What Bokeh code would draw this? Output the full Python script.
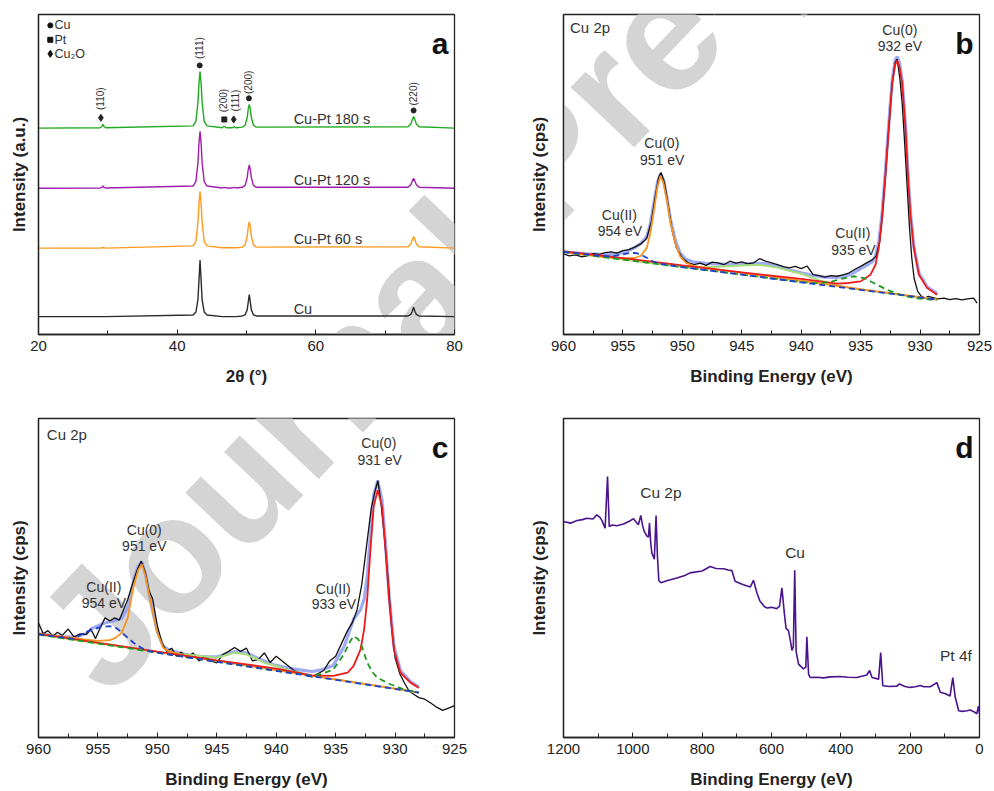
from math import pi
from bokeh.plotting import figure
from bokeh.models import Range1d, Label, FixedTicker, SingleIntervalTicker, ColumnDataSource
from bokeh.layouts import row, column
from bokeh.core.properties import value
from bokeh.embed import file_html
from bokeh.resources import INLINE

FONT = "Liberation Sans"
INK = "#222222"
TXT = "#333333"

# ---------------- Panel a : XRD ----------------
xrd_2theta = [20, 28.9, 29.15, 29.3, 29.45, 29.7, 42.3, 42.7, 43.0, 43.15, 43.3, 43.45, 43.6, 43.9, 44.3,
              46.5, 46.8, 47.1, 47.9, 48.2, 48.5, 49.4, 49.8, 50.1, 50.25, 50.4, 50.55, 50.7, 51.0, 51.4,
              73.3, 73.7, 73.9, 74.1, 74.3, 74.5, 74.9, 80]
xrd_cu = [5.6, 5.6, 5.6, 5.6, 5.6, 5.6, 6.1, 7.0, 10.9, 17.1, 23.3, 17.1, 10.9, 7.0, 6.1,
          5.6, 5.6, 5.6, 5.6, 5.6, 5.6, 5.8, 6.15, 7.7, 10.1, 12.5, 10.1, 7.7, 6.15, 5.8,
          5.8, 6.3, 7.2, 8.5, 7.2, 6.3, 5.8, 5.6]
xrd_60s = [27.0, 27.0, 27.1, 27.1, 27.1, 27.0, 27.7, 29.1, 35.0, 41.2, 44.7, 41.2, 35.0, 29.1, 27.7,
           27.1, 27.1, 27.1, 27.1, 27.1, 27.1, 27.3, 28.0, 30.7, 33.6, 35.3, 33.6, 30.7, 28.0, 27.3,
           27.4, 28.3, 29.5, 30.6, 29.5, 28.3, 27.4, 27.0]
xrd_120s = [45.7, 45.8, 46.0, 46.4, 46.0, 45.8, 46.4, 47.8, 53.7, 59.9, 63.5, 59.9, 53.7, 47.8, 46.4,
            45.8, 46.0, 45.8, 45.8, 46.0, 45.8, 46.0, 46.6, 49.0, 51.5, 53.0, 51.5, 49.0, 46.6, 46.0,
            46.0, 46.8, 47.9, 48.8, 47.9, 46.8, 46.0, 45.7]
xrd_180s = [64.5, 64.6, 65.0, 65.7, 65.0, 64.6, 65.2, 66.6, 72.5, 78.7, 82.2, 78.7, 72.5, 66.6, 65.2,
            64.6, 65.1, 64.6, 64.6, 64.9, 64.6, 64.8, 65.4, 67.8, 70.4, 71.9, 70.4, 67.8, 65.4, 64.8,
            64.9, 65.8, 67.0, 68.1, 67.0, 65.8, 64.9, 64.5]
xrd_names = ["Cu", "Cu-Pt 60 s", "Cu-Pt 120 s", "Cu-Pt 180 s"]
xrd_colors = ["#2b2b2b", "#ff9a1f", "#a21caf", "#1faa1f"]
xrd_name_y = [8.0, 29.9, 48.4, 67.2]

peak_x = [29.0, 43.25, 46.8, 48.15, 50.35, 74.1]
peak_y = [67.7, 84.1, 67.2, 67.2, 73.8, 70.0]
peak_marker = ["diamond", "circle", "square", "diamond", "circle", "circle"]
peak_hkl = ["(110)", "(111)", "(200)", "(111)", "(200)", "(220)"]
peak_hkl_x = [29.0, 43.25, 46.7, 48.4, 50.35, 74.1]
peak_hkl_y = [73.7, 89.5, 73.1, 73.1, 78.8, 75.2]

legend_marker = ["circle", "square", "diamond"]
legend_text = ["Cu", "Pt", "Cu\u2082O"]
legend_y = [96.6, 92.1, 87.7]

# ---------------- Panel b : XPS Cu 2p ----------------
b_data = [(960, 25.2), (959.5, 24.6), (959, 24.9), (958.5, 24.3), (958, 24.6), (957.5, 25.3), (957, 25.0),
          (956.5, 25.6), (956, 25.8), (955.5, 25.4), (955, 26.2), (954.5, 26.5), (954, 27.3), (953.5, 28.3),
          (953, 30.0), (952.6, 35.4), (952.3, 42.7), (952.0, 49.0), (951.8, 50.6), (951.5, 47.4),
          (951.2, 40.6), (950.9, 33.3), (950.5, 27.1), (950.0, 23.9), (949.5, 22.4), (949, 21.8),
          (948.5, 22.3), (948, 21.6), (947.5, 22.6), (947, 22.4), (946.5, 21.8), (946, 22.9), (945.5, 22.3),
          (945, 22.7), (944.5, 22.1), (944, 22.4), (943.5, 23.7), (943, 22.9), (942.5, 22.4), (942, 21.8),
          (941.5, 21.2), (941, 20.8), (940.5, 21.3), (940, 20.6), (939.5, 21.4), (939, 18.7), (938.5, 18.4),
          (938, 17.9), (937.5, 18.4), (937, 18.2), (936.5, 18.6), (936, 19.2), (935.5, 20.3), (935, 21.3),
          (934.5, 22.4), (934, 23.4), (933.7, 24.5), (933.4, 29.0), (933.2, 36.5), (932.9, 50.1),
          (932.63, 64.7), (932.35, 78.3), (932.1, 85.0), (931.93, 86.1), (931.7, 80.0), (931.5, 72.0),
          (931.3, 60.0), (931.1, 47.0), (930.9, 34.0), (930.7, 24.0), (930.5, 17.5), (930.2, 13.5),
          (929.9, 12.0), (929.6, 11.4), (929.3, 11.9), (929, 11.6), (928.5, 11.1), (928, 11.4),
          (927.5, 10.9), (927, 11.2), (926.5, 10.8), (926, 11.1), (925.5, 11.4), (925.2, 9.8)]
b_envelope = [(960, 25.8), (958, 25.2), (956, 25.0), (955, 25.6), (954.5, 26.3), (954, 27.2), (953.5, 28.4),
              (953, 30.5), (952.7, 34.5), (952.4, 41.0), (952.1, 47.5), (951.85, 50.2), (951.6, 48.5),
              (951.3, 43.0), (951.0, 36.0), (950.6, 29.5), (950.2, 25.5), (949.7, 23.5), (949, 22.6),
              (948, 22.2), (947, 22.0), (946, 22.0), (945, 22.1), (944, 22.2), (943.5, 22.2), (943, 22.1),
              (942, 21.2), (941, 20.2), (940, 19.3), (939, 18.5), (938, 17.9), (937, 17.8), (936, 18.6),
              (935.5, 19.5), (935, 20.6), (934.5, 21.6), (934, 22.8), (933.75, 24.5), (933.47, 29.0),
              (933.19, 38.0), (932.91, 51.5), (932.63, 66.0), (932.35, 79.3), (932.1, 85.6), (931.93, 86.8),
              (931.75, 85.2), (931.5, 79.3), (931.23, 65.7), (931.03, 51.0), (930.81, 38.3), (930.53, 27.8),
              (930.1, 19.3), (929.4, 14.9), (928.56, 12.8)]
b_cu0_932 = [(960, 26.0), (955, 23.9), (950, 21.6), (945, 19.4), (940, 17.4), (937, 15.9), (936, 16.1),
             (935, 16.6), (934.17, 18.7), (933.75, 21.8), (933.47, 27.1), (933.19, 36.5), (932.91, 50.1),
             (932.63, 64.7), (932.35, 78.3), (932.1, 84.3), (931.93, 85.6), (931.75, 84.0), (931.5, 78.3),
             (931.23, 64.7), (931.03, 50.1), (930.81, 37.5), (930.53, 27.1), (930.1, 18.7), (929.4, 14.5),
             (928.56, 12.4)]
b_cu0_951 = [(960, 25.8), (957, 24.4), (955, 23.8), (954, 23.9), (953.5, 24.6), (953.0, 27.0), (952.7, 31.5),
             (952.4, 38.5), (952.1, 46.0), (951.85, 49.5), (951.6, 47.5), (951.3, 42.0), (951.0, 35.0),
             (950.6, 28.5), (950.2, 24.5), (949.7, 22.4), (949, 21.4), (948, 20.8), (947, 20.3), (945, 19.3),
             (940, 16.8), (935, 14.2), (930, 11.7), (928.56, 10.9)]
b_cu2_954 = [(960, 25.8), (957, 24.6), (956, 24.4), (955.2, 24.9), (954.5, 25.4), (954, 25.5), (953.5, 25.0),
             (953, 24.0), (952.5, 22.9), (952, 22.2), (951.5, 21.9), (950.5, 21.3), (928.56, 10.9)]
b_cu2_935 = [(960, 25.8), (945, 18.7), (940, 16.4), (938.5, 16.0), (937.5, 16.5), (936.5, 17.5), (935.6, 18.2),
             (934.7, 17.6), (933.9, 16.1), (932.8, 14.0), (931.65, 12.4), (930.5, 11.4), (929.1, 10.9),
             (928.56, 10.8)]
b_satellite = [(960, 25.8), (950, 21.1), (949, 20.9), (947, 21.2), (945, 21.6), (943.5, 21.8), (942, 20.9),
               (940, 19.0), (938.5, 17.0), (937, 15.4), (936, 14.6), (935, 14.0), (928.56, 10.9)]
b_ann_text = ["Cu(0)", "932 eV", "Cu(0)", "951 eV", "Cu(II)", "954 eV", "Cu(II)", "935 eV"]
b_ann_x = [931.7, 931.7, 951.73, 951.7, 955.3, 955.25, 935.66, 935.6]
b_ann_y = [95.2, 90.3, 59.7, 54.4, 37.5, 32.3, 31.6, 26.3]

# ---------------- Panel c : XPS Cu 2p ----------------
c_data = [(960, 35.9), (959.6, 32.5), (959.2, 33.5), (958.8, 31.8), (958.4, 33.0), (958, 32.0), (957.5, 34.0),
          (957, 31.5), (956.5, 32.5), (956, 32.3), (955.6, 34.0), (955.2, 31.0), (954.8, 34.5), (954.4, 37.5),
          (954, 36.5), (953.6, 37.5), (953.2, 36.8), (952.9, 39.5), (952.5, 43.2), (952.1, 48.0),
          (951.7, 52.5), (951.35, 55.3), (951.0, 51.6), (950.7, 46.0), (950.4, 43.5), (950.0, 35.0),
          (949.6, 29.5), (949.2, 27.0), (948.8, 28.0), (948.4, 25.5), (948, 26.8), (947.5, 25.0), (947, 26.5),
          (946.5, 24.0), (946, 25.5), (945.5, 24.0), (945, 23.4), (944.5, 26.0), (944, 27.0), (943.5, 28.2),
          (943, 27.0), (942.5, 28.0), (942, 24.0), (941.5, 24.5), (941, 26.5), (940.5, 23.5), (940, 25.5),
          (939.5, 24.0), (939, 22.5), (938.5, 21.0), (938, 20.3), (937.5, 19.5), (937, 19.0), (936.5, 20.0),
          (936, 21.0), (935.5, 24.0), (935, 25.5), (934.5, 29.5), (934, 33.5), (933.6, 36.0), (933.2, 40.0),
          (932.8, 48.0), (932.4, 60.0), (932.0, 72.0), (931.7, 77.0), (931.45, 80.5), (931.2, 74.0),
          (930.9, 63.0), (930.6, 50.0), (930.3, 35.0), (930.0, 25.0), (929.6, 20.0), (929.2, 17.0),
          (928.8, 14.5), (928.4, 13.5), (928, 12.5), (927.5, 12.0), (927, 10.8), (926.5, 9.5), (926, 8.5),
          (925.5, 9.2), (925, 10.0)]
c_envelope = [(960, 32.5), (958, 31.6), (957, 31.5), (956, 32.5), (955.5, 34.2), (954.5, 35.8), (954, 36.3),
              (953.5, 36.7), (953, 37.4), (952.5, 40.6), (952, 49.3), (951.6, 53.8), (951.3, 55.0), (951, 51.2),
              (950.5, 41.4), (950, 33.1), (949.5, 28.6), (949, 27.4), (948, 26.3), (947, 25.7), (946, 25.3),
              (945, 25.3), (944, 26.3), (943.5, 26.9), (942.5, 26.5), (941.5, 24.8), (940.5, 23.2), (940, 22.6),
              (939, 21.8), (938, 21.2), (937, 20.7), (936.3, 21.1), (935.2, 22.6), (934.3, 28.4), (933.5, 37.0),
              (932.9, 40.1), (932.6, 43.4), (932.35, 50.2), (932.07, 64.0), (931.8, 76.0), (931.46, 80.5),
              (931.1, 74.5), (930.8, 60.7), (930.5, 44.6), (930.1, 28.7), (929.55, 21.0), (928.7, 17.5),
              (928.0, 15.8)]
c_cu0_931 = [(960, 32.5), (950, 26.9), (945, 24.2), (940, 21.6), (937, 19.5), (935.2, 19.3), (934.0, 20.3),
             (933.5, 22.4), (932.9, 27.6), (932.6, 34.0), (932.35, 43.2), (932.07, 58.9), (931.8, 72.4),
             (931.46, 77.6), (931.1, 72.4), (930.8, 58.9), (930.5, 43.2), (930.1, 27.6), (929.55, 20.3),
             (928.7, 17.2), (928.0, 15.6)]
c_cu0_951 = [(960, 32.5), (957, 31.2), (956, 30.7), (955, 30.3), (954, 30.5), (953.5, 31.3), (953, 32.8),
             (952.5, 37.4), (952, 47.4), (951.6, 52.6), (951.3, 54.2), (951, 50.7), (950.5, 41.2), (950, 32.8),
             (949.5, 28.1), (949, 27.0), (948, 26.0), (947, 25.2), (946, 24.6), (945, 24.0), (940, 21.1),
             (935, 18.2), (930, 15.3), (928, 14.1)]
c_cu2_954 = [(960, 32.3), (957, 30.9), (956.2, 32.8), (955.5, 33.7), (954.8, 34.6), (954, 34.9), (953.5, 34.4),
             (953.1, 33.3), (952.5, 31.3), (952, 29.7), (951.3, 28.0), (950.6, 27.0), (949, 26.0), (928, 14.1)]
c_cu2_933 = [(960, 32.3), (940, 20.9), (937, 19.3), (936.3, 19.8), (935.2, 21.3), (934.3, 26.1), (933.8, 30.0),
             (933.5, 31.8), (933.1, 30.8), (932.8, 28.6), (932.35, 23.5), (931.9, 20.5), (931.5, 18.7),
             (930.4, 16.7), (929.3, 15.1), (928, 14.1)]
c_satellite = [(960, 32.3), (950, 26.8), (949, 26.3), (947, 25.8), (945, 25.0), (944, 26.0), (943.5, 26.6),
               (942.5, 26.0), (941.5, 24.4), (941, 23.4), (940, 22.4), (939, 21.0), (938, 20.3), (937, 19.4),
               (935, 18.2), (928, 14.1)]
c_ann_text = ["Cu(0)", "931 eV", "Cu(0)", "951 eV", "Cu(II)", "954 eV", "Cu(II)", "933 eV"]
c_ann_x = [931.37, 931.3, 951.1, 951.1, 954.5, 954.5, 935.2, 935.15]
c_ann_y = [92.2, 87.0, 64.9, 59.9, 47.1, 42.2, 46.6, 41.7]

# ---------------- Panel d : XPS survey ----------------
d_survey = [(1200, 67.7), (1180, 67.2), (1161, 68.0), (1145, 68.3), (1133, 68.75), (1115, 68.5), (1104, 69.8),
            (1095, 69.0), (1089, 68.0), (1080, 65.6), (1073, 81.8), (1068, 66.1), (1060, 66.6), (1046, 66.4),
            (1027, 66.9), (1010, 67.8), (998, 68.6), (990, 67.5), (984, 66.7), (977, 69.6), (972, 66.5),
            (967, 64.6), (960, 63.2), (955, 62.8), (952, 67.2), (948, 60.5), (945, 57.8), (938, 55.9),
            (933, 69.6), (929, 56.8), (925, 49.2), (919, 48.5), (900, 49.2), (873, 50.0), (850, 50.8),
            (835, 51.6), (800, 52.2), (777, 53.6), (760, 53.0), (738, 52.9), (725, 52.5), (714, 52.3),
            (705, 49.0), (690, 48.3), (681, 47.9), (661, 47.2), (652, 49.3), (642, 45.3), (633, 42.7),
            (620, 41.0), (613, 40.6), (600, 40.8), (585, 40.4), (577, 41.1), (570, 46.9), (563, 39.0),
            (558, 34.2), (551, 33.5), (545, 30.0), (541, 27.3), (537, 28.4), (533, 52.4), (529, 27.0),
            (522, 23.0), (508, 21.5), (501, 22.0), (498, 31.6), (493, 19.8), (488, 18.8), (470, 18.9),
            (450, 18.7), (430, 19.0), (402, 19.1), (380, 18.9), (354, 18.8), (340, 19.2), (325, 19.6),
            (317, 21.0), (310, 18.8), (291, 18.3), (285, 26.6), (279, 16.2), (260, 16.0), (238, 16.1),
            (231, 16.8), (215, 16.0), (200, 15.7), (185, 15.9), (171, 16.3), (160, 15.9), (142, 15.9),
            (123, 17.2), (113, 14.2), (100, 13.8), (85, 13.0), (77, 18.8), (70, 12.6), (65, 10.5), (60, 8.4),
            (50, 8.2), (36, 8.4), (27, 8.6), (15, 8.0), (8, 7.4), (3, 9.8), (0, 7.3)]
d_ann_text = ["Cu 2p", "Cu", "Pt 4f"]
d_ann_x = [919, 532, 68]
d_ann_y = [76.8, 58.1, 25.7]

# ---------------- layout constants (page pixels; the page has no margin) ----------------
FW, FH = 416, 320
W_LEFT, W_RIGHT = 496, 498
LEFT_A, LEFT_B = 38, 67
TOP_A, BOT_A = 14, 56
TOP_C, BOT_C = 28, 53
H_TOP = TOP_A + FH + BOT_A
H_BOT = TOP_C + FH + BOT_C
WM_X, WM_Y, WM_SIZE, WM_ANGLE = 67, 661, 165, 46.5


def xs(pts):
    return [p[0] for p in pts]


def ys(pts):
    return [p[1] for p in pts]


def make_fig(xr, width, left, top, bottom, xlabel, ylabel, ticker, ylab_standoff):
    p = figure(width=width, height=top + FH + bottom, x_range=Range1d(*xr), y_range=Range1d(0, 100),
               output_backend="svg", toolbar_location=None,
               min_border_left=left, min_border_right=width - left - FW,
               min_border_top=top, min_border_bottom=bottom)
    p.title.visible = False
    p.xgrid.visible = False
    p.ygrid.visible = False
    p.outline_line_color = INK
    p.outline_line_width = 1.3
    p.outline_line_alpha = 1
    p.background_fill_color = "white"
    p.border_fill_color = "white"
    xa = p.xaxis[0]
    xa.ticker = ticker
    xa.axis_label = xlabel
    xa.axis_label_text_font = FONT
    xa.axis_label_text_font_size = "17px"
    xa.axis_label_text_font_style = "bold"
    xa.axis_label_text_color = INK
    xa.axis_label_standoff = 13
    xa.major_label_text_font = FONT
    xa.major_label_text_font_size = "15px"
    xa.major_label_text_color = INK
    xa.major_label_standoff = 6
    xa.major_tick_in = 5
    xa.major_tick_out = 0
    xa.minor_tick_in = 4
    xa.minor_tick_out = 0
    xa.major_tick_line_color = INK
    xa.minor_tick_line_color = INK
    xa.axis_line_color = INK
    xa.axis_line_width = 1.3
    ya = p.yaxis[0]
    ya.ticker = FixedTicker(ticks=[], minor_ticks=[])
    ya.major_label_text_font_size = "0px"
    ya.major_label_standoff = 0
    ya.major_tick_in = 0
    ya.major_tick_out = 0
    ya.minor_tick_in = 0
    ya.minor_tick_out = 0
    ya.axis_label = ylabel
    ya.axis_label_text_font = FONT
    ya.axis_label_text_font_size = "17px"
    ya.axis_label_text_font_style = "bold"
    ya.axis_label_text_color = INK
    ya.axis_label_standoff = ylab_standoff
    ya.axis_line_color = INK
    ya.axis_line_width = 1.3
    return p


def add_watermark(p, fx0, fy0, xr):
    x = xr[0] + (WM_X - fx0) / FW * (xr[1] - xr[0])
    y = 100 - (WM_Y - fy0) / FH * 100
    p.add_layout(Label(x=x, y=y, text="Journal Pre-proof", angle=WM_ANGLE * pi / 180,
                       text_font=FONT, text_font_size=f"{WM_SIZE}px", text_font_style="bold",
                       text_color="#d4d4d4", text_align="left", text_baseline="alphabetic",
                       level="underlay"))


def add_letter(p, letter, xr):
    p.add_layout(Label(x=xr[1], y=91, x_offset=-6, text=letter, text_font=FONT,
                       text_font_size="30px", text_font_style="bold", text_color="#111111",
                       text_align="right", text_baseline="alphabetic"))


def add_texts(p, xv, yv, tv, size="14px", align="center"):
    src = ColumnDataSource(dict(x=xv, y=yv, t=tv))
    p.text("x", "y", text="t", source=src, text_font=value(FONT), text_font_size=size,
           text_color=TXT, text_align=align, text_baseline="middle")


# ---------------- figure a ----------------
xr_a = (20, 80)
pa = make_fig(xr_a, W_LEFT, LEFT_A, TOP_A, BOT_A, "2\u03b8 (\u00b0)", "Intensity (a.u.)",
              SingleIntervalTicker(interval=20, num_minor_ticks=2), 10)
add_watermark(pa, LEFT_A, TOP_A, xr_a)
for yv, col in zip([xrd_cu, xrd_60s, xrd_120s, xrd_180s], xrd_colors):
    pa.line(xrd_2theta, yv, line_color=col, line_width=1.4)
add_texts(pa, [56.8] * 4, xrd_name_y, xrd_names, size="14.5px", align="left")
pk_src = ColumnDataSource(dict(x=peak_x, y=peak_y, m=peak_marker,
                               s=[7 if m == "diamond" else 5 for m in peak_marker]))
pa.scatter("x", "y", marker="m", size="s", source=pk_src, fill_color="#222222", line_color="#222222")
hkl_src = ColumnDataSource(dict(x=peak_hkl_x, y=peak_hkl_y, t=peak_hkl))
pa.text("x", "y", text="t", source=hkl_src, angle=pi / 2, text_font=value(FONT), text_font_size="10px",
        text_color=TXT, text_align="center", text_baseline="middle")
lg_src = ColumnDataSource(dict(x=[21.7] * 3, y=legend_y, m=legend_marker,
                               s=[7 if m == "diamond" else 5 for m in legend_marker]))
pa.scatter("x", "y", marker="m", size="s", source=lg_src, fill_color="#111111", line_color="#111111")
add_texts(pa, [22.3] * 3, legend_y, legend_text, size="12.5px", align="left")
add_letter(pa, "a", xr_a)

# ---------------- figure b ----------------
xr_b = (960, 925)
pb = make_fig(xr_b, W_RIGHT, LEFT_B, TOP_A, BOT_A, "Binding Energy (eV)", "Intensity (cps)",
              SingleIntervalTicker(interval=5, num_minor_ticks=2), 15)
add_watermark(pb, W_LEFT + LEFT_B, TOP_A, xr_b)
pb.line(xs(b_envelope), ys(b_envelope), line_color="#8d9cf2", line_width=3.2, line_alpha=0.85)
pb.line(xs(b_data), ys(b_data), line_color="#111111", line_width=1.3)
pb.line(xs(b_satellite), ys(b_satellite), line_color="#a8df78", line_width=2)
pb.line(xs(b_cu0_951), ys(b_cu0_951), line_color="#f7931e", line_width=1.8)
pb.line(xs(b_cu0_932), ys(b_cu0_932), line_color="#ee1b1b", line_width=1.8)
pb.line(xs(b_cu2_935), ys(b_cu2_935), line_color="#1f9a1f", line_width=1.8, line_dash="6 4")
pb.line(xs(b_cu2_954), ys(b_cu2_954), line_color="#1f3fcc", line_width=1.8, line_dash="6 4")
add_texts(pb, b_ann_x, b_ann_y, b_ann_text)
add_texts(pb, [959.45], [95.8], ["Cu 2p"], size="15px", align="left")
add_letter(pb, "b", xr_b)

# ---------------- figure c ----------------
xr_c = (960, 925)
pc = make_fig(xr_c, W_LEFT, LEFT_A, TOP_C, BOT_C, "Binding Energy (eV)", "Intensity (cps)",
              SingleIntervalTicker(interval=5, num_minor_ticks=2), 10)
add_watermark(pc, LEFT_A, H_TOP + TOP_C, xr_c)
pc.line(xs(c_envelope), ys(c_envelope), line_color="#8d9cf2", line_width=3.2, line_alpha=0.85)
pc.line(xs(c_data), ys(c_data), line_color="#111111", line_width=1.3)
pc.line(xs(c_satellite), ys(c_satellite), line_color="#a8df78", line_width=2)
pc.line(xs(c_cu0_951), ys(c_cu0_951), line_color="#f7931e", line_width=1.8)
pc.line(xs(c_cu0_931), ys(c_cu0_931), line_color="#ee1b1b", line_width=1.8)
pc.line(xs(c_cu2_933), ys(c_cu2_933), line_color="#1f9a1f", line_width=1.8, line_dash="6 4")
pc.line(xs(c_cu2_954), ys(c_cu2_954), line_color="#1f3fcc", line_width=1.8, line_dash="6 4")
add_texts(pc, c_ann_x, c_ann_y, c_ann_text)
add_texts(pc, [959.3], [95.0], ["Cu 2p"], size="15px", align="left")
add_letter(pc, "c", xr_c)

# ---------------- figure d ----------------
xr_d = (1200, 0)
pd_ = make_fig(xr_d, W_RIGHT, LEFT_B, TOP_C, BOT_C, "Binding Energy (eV)", "Intensity (cps)",
               SingleIntervalTicker(interval=200, num_minor_ticks=2), 15)
add_watermark(pd_, W_LEFT + LEFT_B, H_TOP + TOP_C, xr_d)
pd_.line(xs(d_survey), ys(d_survey), line_color="#4a148c", line_width=1.6)
add_texts(pd_, d_ann_x, d_ann_y, d_ann_text, size="15.5px")
add_letter(pd_, "d", xr_d)

layout = column(row(pa, pb), row(pc, pd_))
open("out.html", "w").write(file_html(layout, INLINE, "Figure"))
